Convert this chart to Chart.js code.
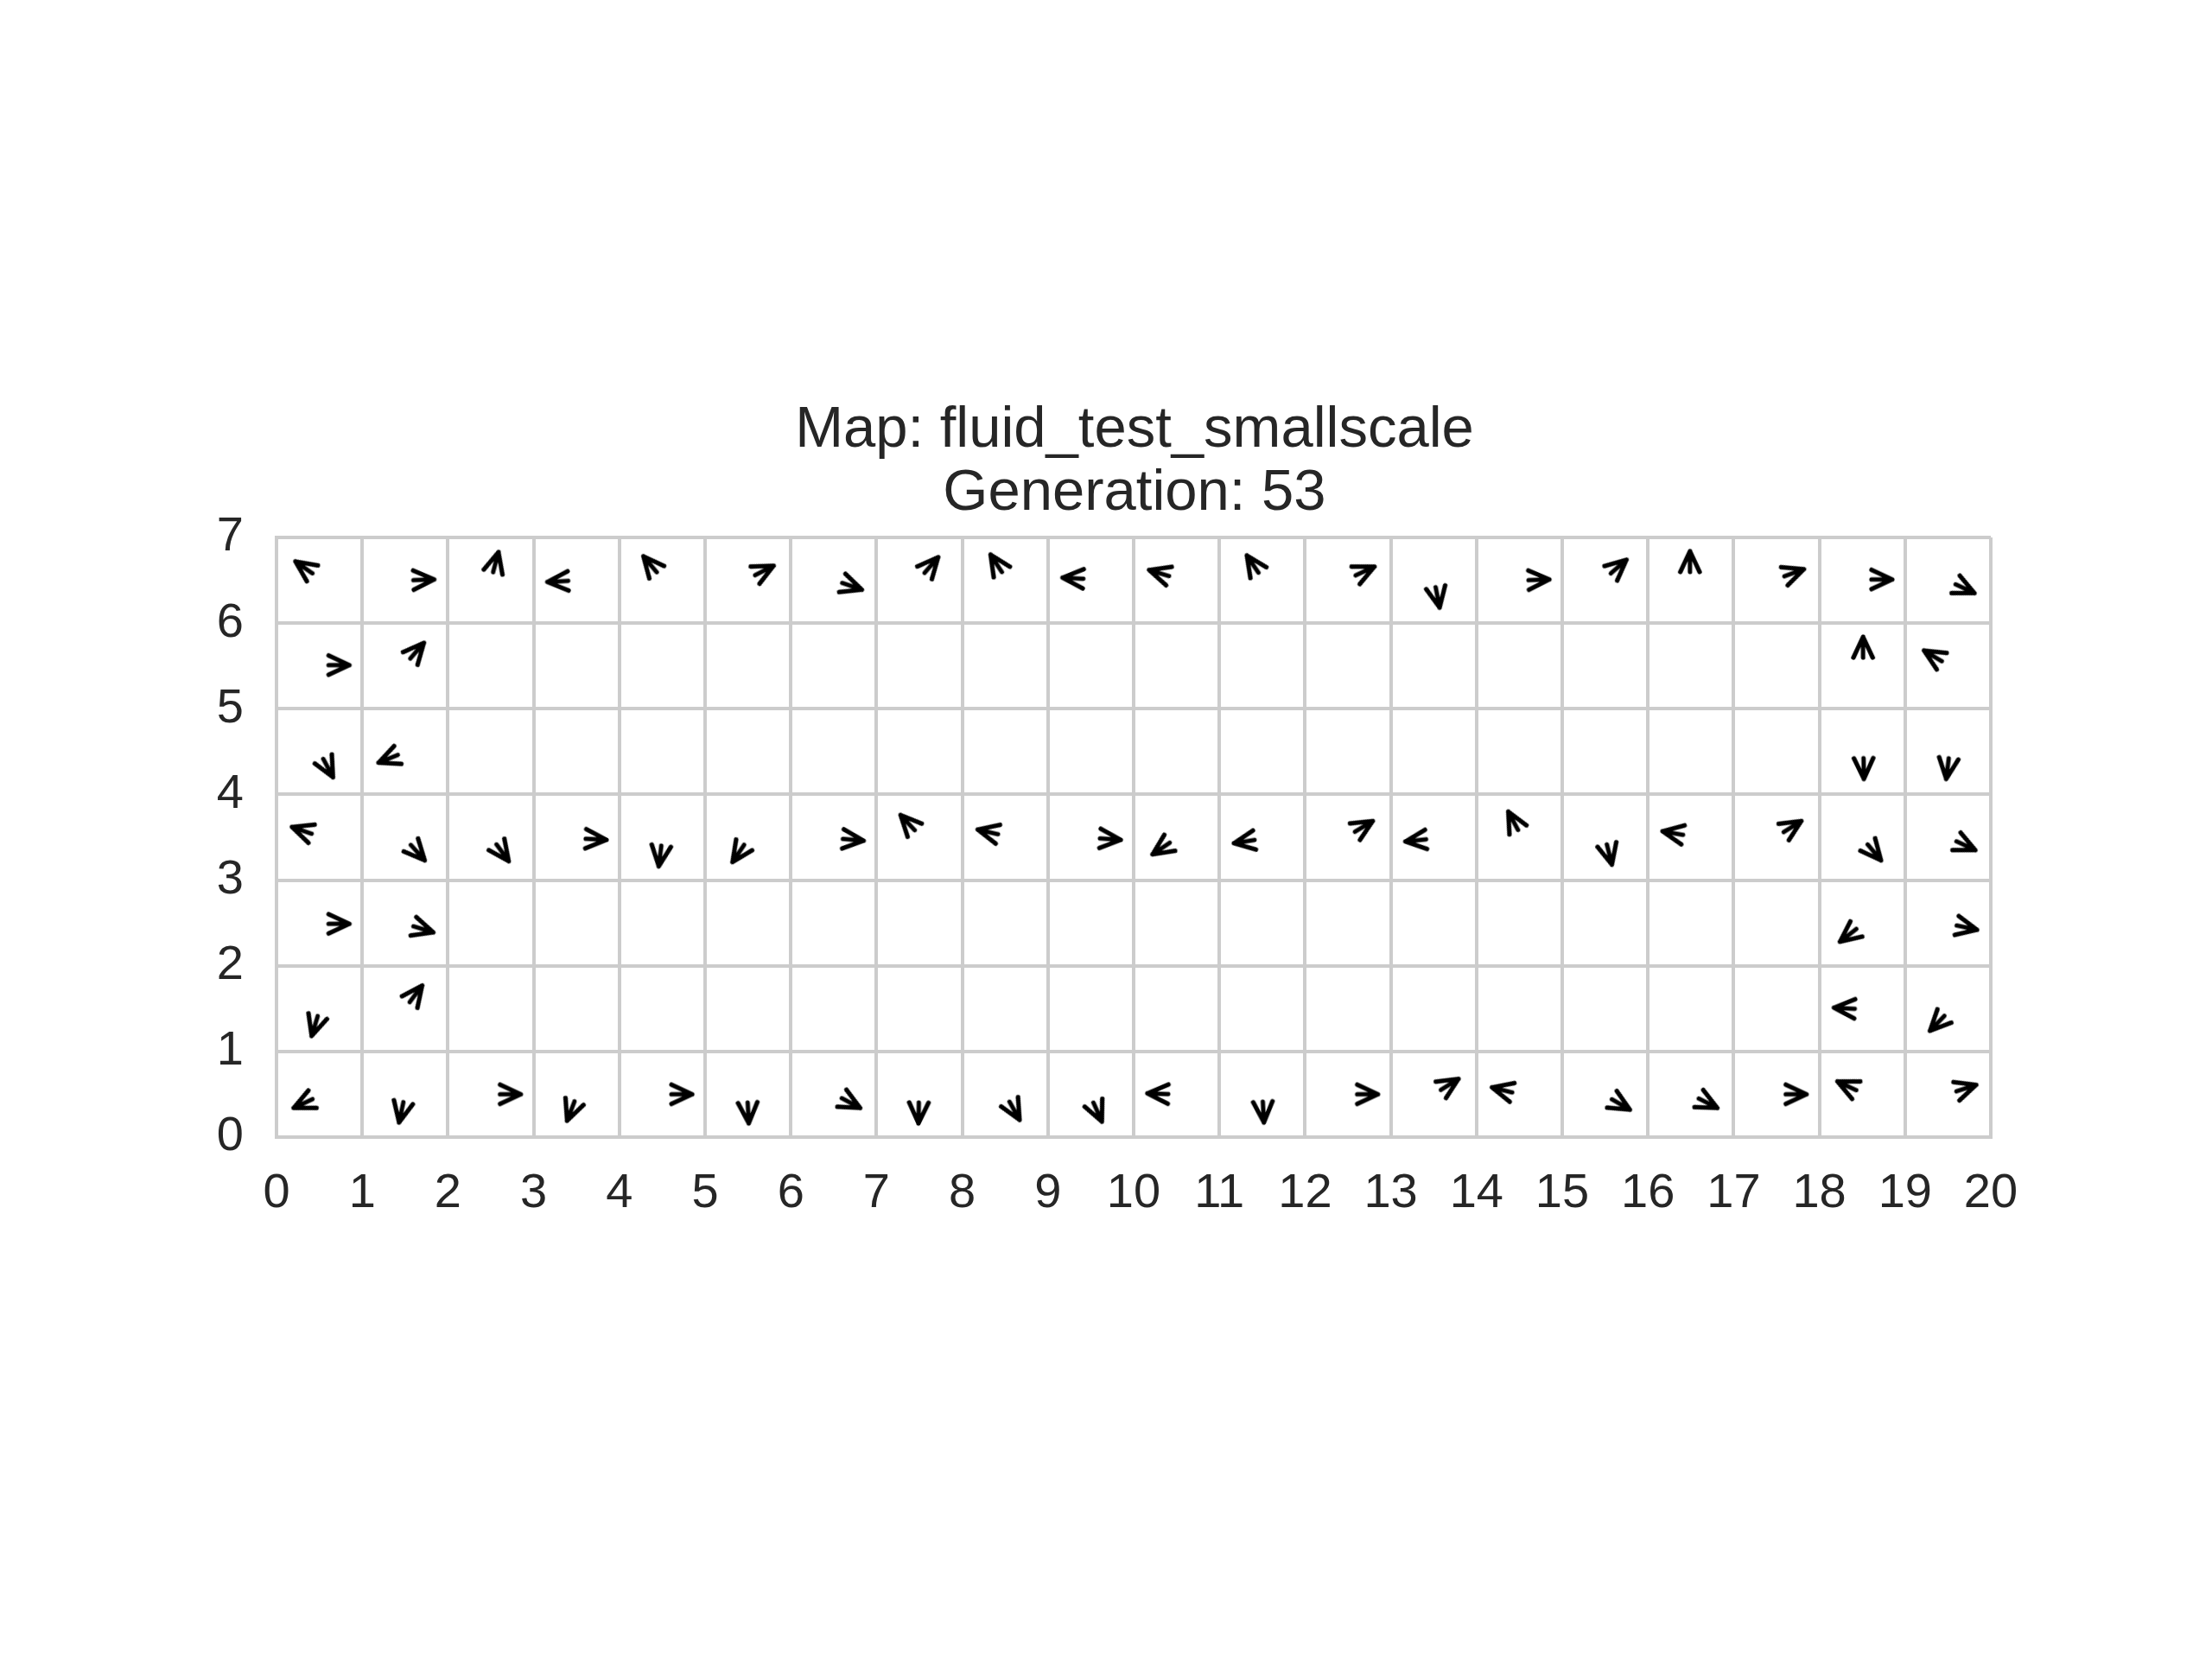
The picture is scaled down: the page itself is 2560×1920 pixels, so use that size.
<!DOCTYPE html>
<html>
<head>
<meta charset="utf-8">
<script src="https://cdn.jsdelivr.net/npm/chart.js@4/dist/chart.umd.min.js"></script>
<style>
html, body { margin: 0; padding: 0; background: #ffffff; }
canvas { display: block; }
</style>
</head>
<body>
<canvas id="chart" width="2560" height="1920" style="width:2560px;height:1920px"></canvas>
<script>
// ---- data ----
const titleLines = ['Map: fluid_test_smallscale', 'Generation: 53'];
const xTickValues = [0, 1, 2, 3, 4, 5, 6, 7, 8, 9, 10, 11, 12, 13, 14, 15, 16, 17, 18, 19, 20];
const yTickValues = [0, 1, 2, 3, 4, 5, 6, 7];

// arrow tip positions (data units) and heading (degrees, counter-clockwise from +x)
const arrowTipX = [
  // row 6
  0.22, 1.84, 2.59, 3.16, 4.28, 5.80, 6.83, 7.72, 8.33, 9.17,
  10.18, 11.32, 12.81, 13.57, 14.85, 15.75, 16.49, 17.82, 18.85, 19.81,
  // row 5
  0.85, 1.72, 18.51, 19.22,
  // row 4
  0.66, 1.19, 18.52, 19.48,
  // row 3
  0.18, 1.73, 2.71, 3.85, 4.46, 5.32, 6.85, 7.28, 8.18, 9.85,
  10.22, 11.17, 12.79, 13.17, 14.37, 15.58, 16.17, 17.79, 18.72, 19.82,
  // row 2
  0.85, 1.83, 18.24, 19.84,
  // row 1
  0.41, 1.70, 18.17, 19.29,
  // row 0
  0.20, 1.43, 2.85, 3.39, 4.85, 5.51, 6.81, 7.49, 8.67, 9.63,
  10.16, 11.52, 12.85, 13.79, 14.18, 15.79, 16.81, 17.85, 18.21, 19.83
];
const arrowTipY = [
  6.72, 6.51, 6.83, 6.48, 6.78, 6.67, 6.39, 6.77, 6.80, 6.53,
  6.62, 6.79, 6.66, 6.18, 6.51, 6.74, 6.84, 6.63, 6.51, 6.35,
  5.51, 5.77, 5.84, 5.68,
  4.20, 4.37, 4.18, 4.18,
  3.62, 3.23, 3.22, 3.47, 3.16, 3.21, 3.46, 3.76, 3.59, 3.47,
  3.30, 3.43, 3.69, 3.45, 3.80, 3.18, 3.57, 3.69, 3.23, 3.35,
  2.49, 2.39, 2.28, 2.42,
  1.18, 1.77, 1.51, 1.24,
  0.34, 0.17, 0.50, 0.19, 0.50, 0.16, 0.34, 0.16, 0.20, 0.18,
  0.51, 0.17, 0.50, 0.68, 0.58, 0.32, 0.34, 0.50, 0.65, 0.61
];
const arrowHeadingDeg = [
  145, 2, 75, 183, 130, 27, -19, 49, 123, 177,
  163, 124, 25, -79, 2, 41, 90, 20, 0, -25,
  0, 49, 90, 149,
  -62, -158, -89, -97,
  161, -48, -54, -3, -97, -124, -5, 133, 167, -4,
  -146, -171, 31, -174, 118, -76, 170, 32, -50, -25,
  0, -17, -142, -12,
  -107, 53, 177, -134,
  -155, -102, 0, -111, 0, -87, -28, -91, -61, -66,
  178, -87, 0, 32, 166, -30, -27, 0, 155, 18
];

// ---- styling ----
const FONT = 'Arial, "Liberation Sans", sans-serif';
const TEXT = '#262626';
const GRID = '#cccccc';

function makeArrowGlyph() {
  const size = 76;
  const c = document.createElement('canvas');
  c.width = size; c.height = size;
  const g = c.getContext('2d');
  const cx = size / 2, cy = size / 2;
  const barb = 26.5, half = 25 * Math.PI / 180, shaft = 24;
  g.strokeStyle = '#000000';
  g.lineWidth = 5.2;
  g.lineCap = 'round';
  g.lineJoin = 'round';
  g.beginPath();
  g.moveTo(cx - barb * Math.cos(half), cy - barb * Math.sin(half));
  g.lineTo(cx, cy);
  g.lineTo(cx - barb * Math.cos(half), cy + barb * Math.sin(half));
  g.moveTo(cx - shaft, cy);
  g.lineTo(cx, cy);
  g.stroke();
  return c;
}
const arrowGlyph = makeArrowGlyph();

const points = arrowTipX.map((x, i) => ({ x: x, y: arrowTipY[i] }));
const rotations = arrowHeadingDeg.map(a => -a);

new Chart(document.getElementById('chart').getContext('2d'), {
  type: 'scatter',
  data: {
    datasets: [{
      data: points,
      pointStyle: arrowGlyph,
      pointRotation: rotations,
      pointRadius: 3,
      pointHoverRadius: 3,
      clip: false
    }]
  },
  options: {
    responsive: false,
    animation: false,
    devicePixelRatio: 1,
    events: [],
    layout: { padding: { left: 200, right: 134, top: 0, bottom: 504 } },
    plugins: {
      legend: { display: false },
      tooltip: { enabled: false },
      title: {
        display: true,
        text: titleLines,
        color: TEXT,
        font: { family: FONT, size: 67, weight: 'normal', lineHeight: '73px' },
        padding: { top: 462, bottom: 14 }
      }
    },
    scales: {
      x: {
        type: 'linear', position: 'bottom', min: 0, max: 20,
        afterBuildTicks: s => { s.ticks = xTickValues.map(v => ({ value: v })); },
        afterFit: s => { s.height = 100; },
        grid: { color: GRID, lineWidth: 4, drawTicks: false },
        border: { color: GRID, width: 4 },
        ticks: { padding: 32, color: TEXT, font: { family: FONT, size: 56 }, autoSkip: false, maxRotation: 0 }
      },
      y: {
        type: 'linear', position: 'left', min: 0, max: 7,
        afterBuildTicks: s => { s.ticks = yTickValues.map(v => ({ value: v })); },
        afterFit: s => { s.width = 120; },
        grid: { color: GRID, lineWidth: 4, drawTicks: false },
        border: { color: GRID, width: 4 },
        ticks: { padding: 38, color: TEXT, font: { family: FONT, size: 56 }, autoSkip: false }
      },
      yPad: {
        type: 'linear', position: 'right', min: 0, max: 7, display: true,
        afterFit: s => { s.width = 122; },
        grid: { display: false, drawTicks: false },
        border: { display: false },
        ticks: { display: false }
      }
    }
  }
});
</script>
</body>
</html>
